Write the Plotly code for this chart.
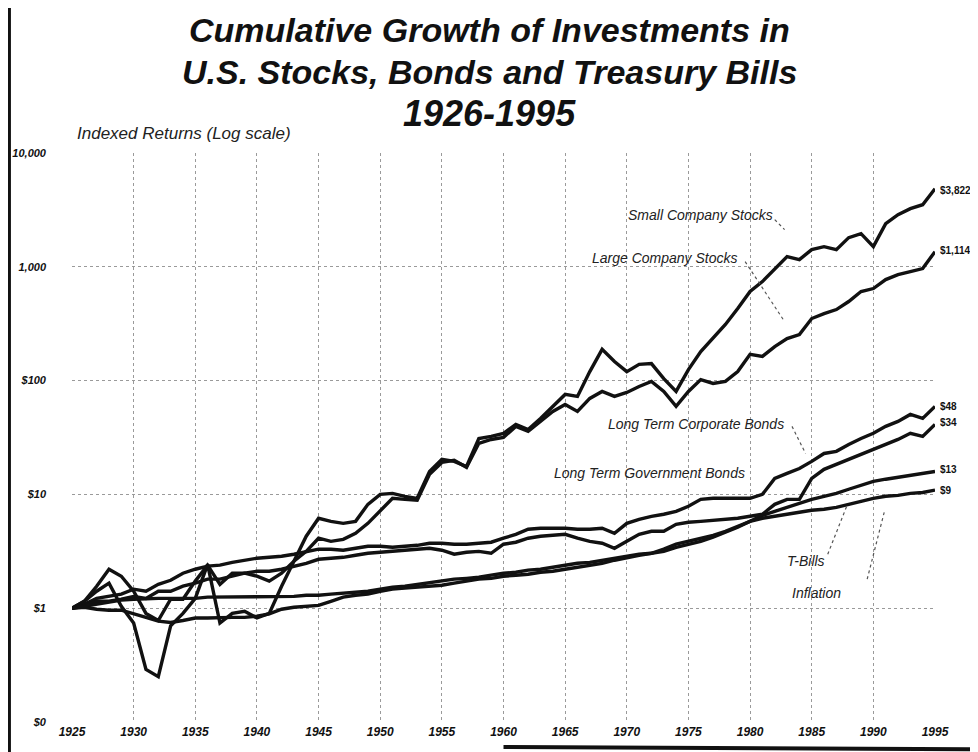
import math
import plotly.graph_objects as go

years = list(range(1925, 1996))

small_stocks = [1.00, 1.15, 1.41, 1.66, 1.04, 0.74, 0.29, 0.25, 0.70, 0.90,
                1.22, 2.43, 0.74, 0.90, 0.94, 0.82, 0.90, 1.56, 2.59, 4.29,
                6.17, 5.80, 5.57, 5.80, 8.18, 10.0, 10.2, 9.62, 9.24, 15.9,
                20.3, 19.5, 17.6, 31.0, 32.3, 34.4, 41.2, 37.2, 46.5, 59.3,
                75.6, 72.6, 120, 188, 147, 120, 139, 141, 104, 80.3,
                125, 180, 234, 311, 430, 606, 741, 945, 1229, 1157,
                1415, 1503, 1415, 1804, 1956, 1503, 2394, 2871, 3241, 3514,
                4856]

large_stocks = [1.00, 1.15, 1.56, 2.20, 1.91, 1.41, 0.90, 0.78, 1.20, 1.20,
                1.73, 2.39, 1.62, 2.03, 2.03, 1.91, 1.73, 2.03, 2.59, 3.16,
                4.12, 3.87, 4.03, 4.55, 5.57, 7.10, 9.24, 9.05, 8.87, 15.0,
                19.1, 19.9, 17.3, 28.1, 30.4, 31.7, 39.6, 35.8, 43.8, 53.6,
                61.7, 53.6, 69.7, 80.3, 72.6, 78.7, 88.8, 98.3, 80.3, 59.3,
                80.3, 102, 94.4, 98.3, 120, 170, 163, 199, 234, 254,
                351, 388, 421, 495, 606, 644, 772, 854, 907, 964,
                1359]

corp_bonds = [1.00, 1.08, 1.22, 1.27, 1.33, 1.47, 1.41, 1.62, 1.76, 2.03,
              2.20, 2.34, 2.39, 2.53, 2.64, 2.75, 2.80, 2.86, 2.98, 3.16,
              3.30, 3.30, 3.23, 3.36, 3.50, 3.50, 3.43, 3.50, 3.57, 3.72,
              3.72, 3.65, 3.65, 3.72, 3.80, 4.12, 4.46, 4.94, 5.04, 5.04,
              5.04, 4.94, 4.94, 5.04, 4.55, 5.57, 6.04, 6.42, 6.69, 7.10,
              7.86, 9.05, 9.24, 9.24, 9.24, 9.24, 10.0, 13.8, 15.3, 16.9,
              19.5, 22.9, 23.9, 27.5, 31.0, 34.4, 39.6, 43.8, 50.4, 46.5,
              59.3]

govt_bonds = [1.00, 1.06, 1.15, 1.15, 1.20, 1.27, 1.22, 1.41, 1.41, 1.56,
              1.66, 1.80, 1.80, 1.91, 2.03, 2.11, 2.11, 2.20, 2.34, 2.48,
              2.69, 2.75, 2.80, 2.92, 3.04, 3.10, 3.16, 3.23, 3.30, 3.36,
              3.23, 2.98, 3.10, 3.16, 3.04, 3.65, 3.80, 4.12, 4.29, 4.37,
              4.46, 4.12, 3.87, 3.72, 3.36, 3.87, 4.46, 4.74, 4.74, 5.46,
              5.69, 5.80, 5.92, 6.04, 6.17, 6.42, 6.69, 8.18, 9.05, 9.05,
              13.8, 16.6, 18.4, 20.3, 22.5, 24.9, 27.5, 30.4, 34.4, 32.3,
              41.2]

t_bills = [1.00, 1.04, 1.08, 1.13, 1.18, 1.20, 1.22, 1.22, 1.22, 1.22,
           1.22, 1.25, 1.25, 1.25, 1.25, 1.25, 1.27, 1.27, 1.27, 1.30,
           1.30, 1.33, 1.35, 1.38, 1.41, 1.47, 1.53, 1.56, 1.62, 1.69,
           1.73, 1.80, 1.83, 1.87, 1.95, 2.03, 2.07, 2.16, 2.20, 2.29,
           2.39, 2.48, 2.53, 2.64, 2.75, 2.86, 2.98, 3.04, 3.16, 3.43,
           3.65, 3.87, 4.20, 4.65, 5.14, 5.80, 6.55, 7.10, 7.70, 8.35,
           9.05, 9.62, 10.2, 11.1, 12.0, 13.0, 13.6, 14.1, 14.7, 15.3,
           15.9]

inflation = [1.00, 1.02, 0.98, 0.96, 0.96, 0.90, 0.83, 0.77, 0.75, 0.78,
             0.82, 0.82, 0.83, 0.83, 0.83, 0.85, 0.89, 0.98, 1.02, 1.04,
             1.06, 1.15, 1.25, 1.30, 1.33, 1.41, 1.47, 1.50, 1.53, 1.56,
             1.59, 1.66, 1.73, 1.80, 1.83, 1.91, 1.95, 1.99, 2.07, 2.11,
             2.20, 2.29, 2.39, 2.48, 2.64, 2.80, 2.92, 3.04, 3.30, 3.65,
             3.87, 4.12, 4.37, 4.74, 5.24, 5.80, 6.17, 6.42, 6.69, 6.96,
             7.25, 7.40, 7.70, 8.18, 8.71, 9.24, 9.62, 9.81, 10.2, 10.4,
             10.9]

series_names = ["Small Company Stocks", "Large Company Stocks", "Long Term Corporate Bonds",
                "Long Term Government Bonds", "T-Bills", "Inflation"]
series_values = [small_stocks, large_stocks, corp_bonds, govt_bonds, t_bills, inflation]
end_labels = ["$3,822", "$1,114", "$48", "$34", "$13", "$9"]

y_tickvals = [0.1, 1, 10, 100, 1000, 10000]
y_ticktext = ["$0", "$1", "$10", "$100", "1,000", "10,000"]
x_tickvals = list(range(1925, 1996, 5))

FONT = "Liberation Sans, Arial, sans-serif"

fig = go.Figure()

for name, vals in zip(series_names, series_values):
    fig.add_trace(go.Scatter(x=years, y=vals, mode="lines", name=name,
                             line={"color": "#111111", "width": 3.4},
                             showlegend=False, hoverinfo="x+y+name"))

# dotted leader lines from labels to the lines
leaders = [
    ([1982.0, 1982.8], [2600, 2120]),
    ([1979.6, 1982.8], [1110, 330]),
    ([1983.4, 1984.5], [39.6, 22.9]),
    ([1986.3, 1987.9], [2.98, 8.18]),
    ([1989.5, 1990.9], [1.80, 7.10]),
]
for lx, ly in leaders:
    fig.add_trace(go.Scatter(x=lx, y=ly, mode="lines", showlegend=False, hoverinfo="skip",
                             line={"color": "#555555", "width": 1.2, "dash": "dot"}))

# series labels inside the plot (left edge year, value)
label_pos = [(1969.9, 2870), (1967.0, 1204), (1968.3, 41.2), (1963.9, 15.3), (1982.8, 2.59), (1983.2, 1.35)]
annotations = []
for name, (lx, ly) in zip(series_names, label_pos):
    annotations.append(dict(x=lx, y=math.log10(ly), xref="x", yref="y", text=name, showarrow=False,
                            xanchor="left", yanchor="middle",
                            font={"family": FONT, "size": 14, "style": "italic", "color": "#222"}))

# ending values at the right edge
end_pos = [4660, 1380, 59.3, 43.2, 16.6, 10.9]
for txt, ev in zip(end_labels, end_pos):
    annotations.append(dict(x=1.003, y=math.log10(ev), xref="paper", yref="y", text=txt, showarrow=False,
                            xanchor="left", yanchor="middle",
                            font={"family": FONT, "size": 10, "weight": "bold", "color": "#111"}))

title_lines = ["Cumulative Growth of Investments in", "U.S. Stocks, Bonds and Treasury Bills", "1926-1995"]
title_sizes = [34, 34, 36]
for txt, ty, ts in zip(title_lines, [1.216, 1.142, 1.070], title_sizes):
    annotations.append(dict(x=0.484, y=ty, xref="paper", yref="paper", text=txt, showarrow=False,
                            xanchor="center", yanchor="middle",
                            font={"family": FONT, "size": ts, "weight": "bold", "style": "italic", "color": "#111"}))

annotations.append(dict(x=0.004, y=1.035, xref="paper", yref="paper", text="Indexed Returns (Log scale)",
                        showarrow=False, xanchor="left", yanchor="middle",
                        font={"family": FONT, "size": 17, "style": "italic", "color": "#222"}))

# the page adds an 8px body margin, so the figure is 8px smaller than the window
fig.update_layout(
    width=970, height=744,
    margin={"l": 64, "r": 43, "t": 145, "b": 30},
    paper_bgcolor="white", plot_bgcolor="white",
    annotations=annotations,
    shapes=[
        dict(type="line", xref="paper", yref="paper", x0=-0.0725, x1=-0.0725, y0=1.27, y1=-0.06,
             line={"color": "#111", "width": 3}),
        dict(type="line", xref="paper", yref="paper", x0=0.50, x1=1.06, y0=-0.044, y1=-0.048,
             line={"color": "#111", "width": 4}),
    ],
)

fig.update_xaxes(range=[1925, 1995], tickvals=x_tickvals, showgrid=True, gridcolor="#9a9a9a",
                 griddash="dot", gridwidth=1, zeroline=False, showline=False, ticks="",
                 ticklabelstandoff=1, automargin=False,
                 tickfont={"family": FONT, "size": 12, "weight": "bold", "style": "italic", "color": "#111"})
fig.update_yaxes(type="log", range=[-1, 4], tickvals=y_tickvals, ticktext=y_ticktext,
                 showgrid=True, gridcolor="#9a9a9a", griddash="dot", gridwidth=1,
                 zeroline=False, showline=False, ticks="", ticklabelstandoff=25, automargin=False,
                 tickfont={"family": FONT, "size": 11, "weight": "bold", "style": "italic", "color": "#111"})

fig.write_html("out.html")
